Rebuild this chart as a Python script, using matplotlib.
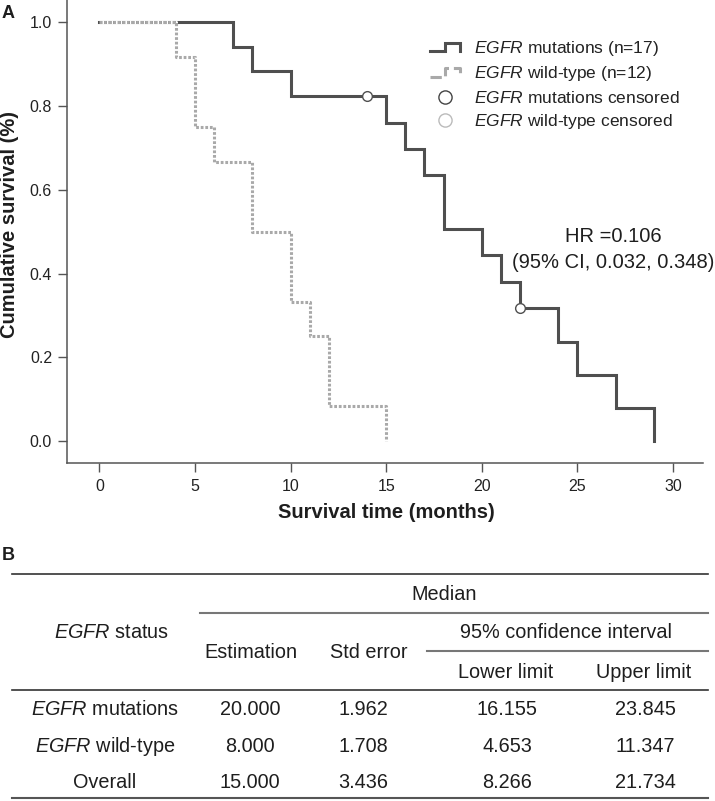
import matplotlib
matplotlib.use("Agg")
import matplotlib.pyplot as plt
from matplotlib.lines import Line2D
from matplotlib.legend_handler import HandlerBase

plt.rcParams['font.family'] = ['Liberation Sans', 'DejaVu Sans']
plt.rcParams['mathtext.fontset'] = 'custom'
plt.rcParams['mathtext.rm'] = 'Liberation Sans'
plt.rcParams['mathtext.it'] = 'Liberation Sans:italic'
plt.rcParams['mathtext.bf'] = 'Liberation Sans:bold'

# ---------------- data ----------------
mut_times = [0, 7, 8, 10, 15, 16, 17, 18, 20, 21, 22, 24, 25, 27, 29]
mut_surv = [1.0, 0.941, 0.882, 0.824, 0.760, 0.697, 0.634, 0.507, 0.444,
            0.380, 0.317, 0.238, 0.158, 0.079, 0.0]
mut_cens_t = [14, 22]
mut_cens_s = [0.824, 0.317]

wt_times = [0, 4, 5, 6, 8, 10, 11, 12, 15]
wt_surv = [1.0, 0.917, 0.75, 0.667, 0.5, 0.333, 0.25, 0.083, 0.0]

x_ticks = [0, 5, 10, 15, 20, 25, 30]
y_ticks = [0.0, 0.2, 0.4, 0.6, 0.8, 1.0]

legend_labels = [r"$\it{EGFR}$ mutations (n=17)", r"$\it{EGFR}$ wild-type (n=12)",
                 r"$\it{EGFR}$ mutations censored", r"$\it{EGFR}$ wild-type censored"]
hr_lines = ["HR =0.106", "(95% CI, 0.032, 0.348)"]

tbl_rows = [r"$\it{EGFR}$ mutations", r"$\it{EGFR}$ wild-type", "Overall"]
tbl_est = ["20.000", "8.000", "15.000"]
tbl_se = ["1.962", "1.708", "3.436"]
tbl_low = ["16.155", "4.653", "8.266"]
tbl_up = ["23.845", "11.347", "21.734"]

DARK = '#4f4f4f'
LIGHT = '#a9a9a9'
W, H = 715, 801

fig = plt.figure(figsize=(W / 100, H / 100), dpi=100)

# ---------------- panel A ----------------
ax_l, ax_r, ax_b, ax_t = 67.3, 703, 463.3, 0
ax = fig.add_axes([ax_l / W, 1 - ax_b / H, (ax_r - ax_l) / W, (ax_b - ax_t) / H])
ax.set_xlim(-1.684, 31.57)
ax.set_ylim(-0.0525, 1.0525)
for s in ['top', 'right']:
    ax.spines[s].set_visible(False)
for s in ['left', 'bottom']:
    ax.spines[s].set_color('#555555')
    ax.spines[s].set_linewidth(1.1)
ax.set_xticks(x_ticks)
ax.set_yticks(y_ticks)
ax.set_yticklabels([f"{v:.1f}" for v in y_ticks])
ax.tick_params(axis='both', length=6.5, width=1.0, color='#555555',
               labelsize=11.5, labelcolor='#222222', pad=4.5)

ax.plot(mut_times, mut_surv, drawstyle='steps-post', color=DARK, lw=2.2,
        solid_joinstyle='miter', zorder=3)
ax.plot(wt_times, wt_surv, drawstyle='steps-post', color=LIGHT, lw=2.2,
        linestyle=(0, (0.9, 0.6)), gapcolor='white', zorder=4)
ax.plot(mut_cens_t, mut_cens_s, linestyle='none', marker='o', ms=7,
        mfc='white', mec=DARK, mew=1.0, zorder=5)


class StepHandler(HandlerBase):
    def create_artists(self, legend, orig_handle, xdescent, ydescent,
                       width, height, fontsize, trans):
        x0 = -xdescent
        yc = -ydescent + height / 2.0
        half = 3.0
        xs = [x0, x0 + width * 0.5, x0 + width * 0.5, x0 + width, x0 + width]
        ys = [yc - half, yc - half, yc + half, yc + half, yc - half]
        ln = Line2D(xs, ys, color=orig_handle.get_color(),
                    lw=orig_handle.get_linewidth(),
                    linestyle=orig_handle.get_linestyle(),
                    solid_joinstyle='miter')
        ln.set_transform(trans)
        return [ln]


h1 = Line2D([], [], color=DARK, lw=2.2)
h2 = Line2D([], [], color=LIGHT, lw=2.2, linestyle=(0, (0.9, 0.6)))
h3 = Line2D([], [], linestyle='none', marker='o', ms=9.5, mfc='white', mec='#444444', mew=1.0)
h4 = Line2D([], [], linestyle='none', marker='o', ms=9.5, mfc='white', mec='#bbbbbb', mew=1.0)
leg = fig.legend([h1, h2, h3, h4], legend_labels, loc='upper left',
                 bbox_to_anchor=(430 / W, 1 - 39 / H), bbox_transform=fig.transFigure,
                 frameon=False, fontsize=12.5, handlelength=1.72, handletextpad=0.8,
                 labelspacing=0.37, borderpad=0, borderaxespad=0,
                 handler_map={h1: StepHandler(), h2: StepHandler()})
for t in leg.get_texts():
    t.set_color('#222222')

# ---------------- overlay (pixel coordinates) ----------------
ov = fig.add_axes([0, 0, 1, 1])
ov.set_xlim(0, W)
ov.set_ylim(H, 0)
ov.axis('off')
ov.patch.set_visible(False)

TXT = '#1e1e1e'
ov.text(8, 13, "A", fontsize=13, fontweight='bold', ha='center', va='center', color=TXT)
ov.text(8, 555, "B", fontsize=13, fontweight='bold', ha='center', va='center', color=TXT)
ov.text(10, 225, "Cumulative survival (%)", fontsize=14.5, fontweight='bold',
        rotation=90, ha='center', va='center', color=TXT)
ov.text(386, 512, "Survival time (months)", fontsize=14.5, fontweight='bold',
        ha='center', va='center', color=TXT)
ov.text(613, 237, hr_lines[0], fontsize=14.5, ha='center', va='center', color=TXT)
ov.text(613, 263, hr_lines[1], fontsize=14.5, ha='center', va='center', color=TXT)

# ---------------- panel B table ----------------
FS = 14.3
ov.plot([12, 708], [574, 574], color='#333333', lw=1.2)
ov.plot([200, 708], [612.7, 612.7], color='#777777', lw=1.5)
ov.plot([427, 708], [651, 651], color='#777777', lw=1.5)
ov.plot([12, 708], [689.5, 689.5], color='#333333', lw=1.2)
ov.plot([12, 708], [797.5, 797.5], color='#555555', lw=1.5)

ov.text(444.5, 595, "Median", fontsize=FS, ha='center', va='center', color=TXT)
ov.text(112, 633, r"$\it{EGFR}$ status", fontsize=FS, ha='center', va='center', color=TXT)
ov.text(250.5, 652, "Estimation", fontsize=FS, ha='center', va='center', color=TXT)
ov.text(369, 652, "Std error", fontsize=FS, ha='center', va='center', color=TXT)
ov.text(565.5, 633, "95% confidence interval", fontsize=FS, ha='center', va='center', color=TXT)
ov.text(505.5, 672, "Lower limit", fontsize=FS, ha='center', va='center', color=TXT)
ov.text(644, 672, "Upper limit", fontsize=FS, ha='center', va='center', color=TXT)

row_y = [709.5, 746, 782]
col_x = [105, 250, 363, 507, 645]
for i, y in enumerate(row_y):
    vals = [tbl_rows[i], tbl_est[i], tbl_se[i], tbl_low[i], tbl_up[i]]
    for x, v in zip(col_x, vals):
        ov.text(x, y, v, fontsize=FS, ha='center', va='center', color=TXT)

fig.savefig("out.png", dpi=100)
